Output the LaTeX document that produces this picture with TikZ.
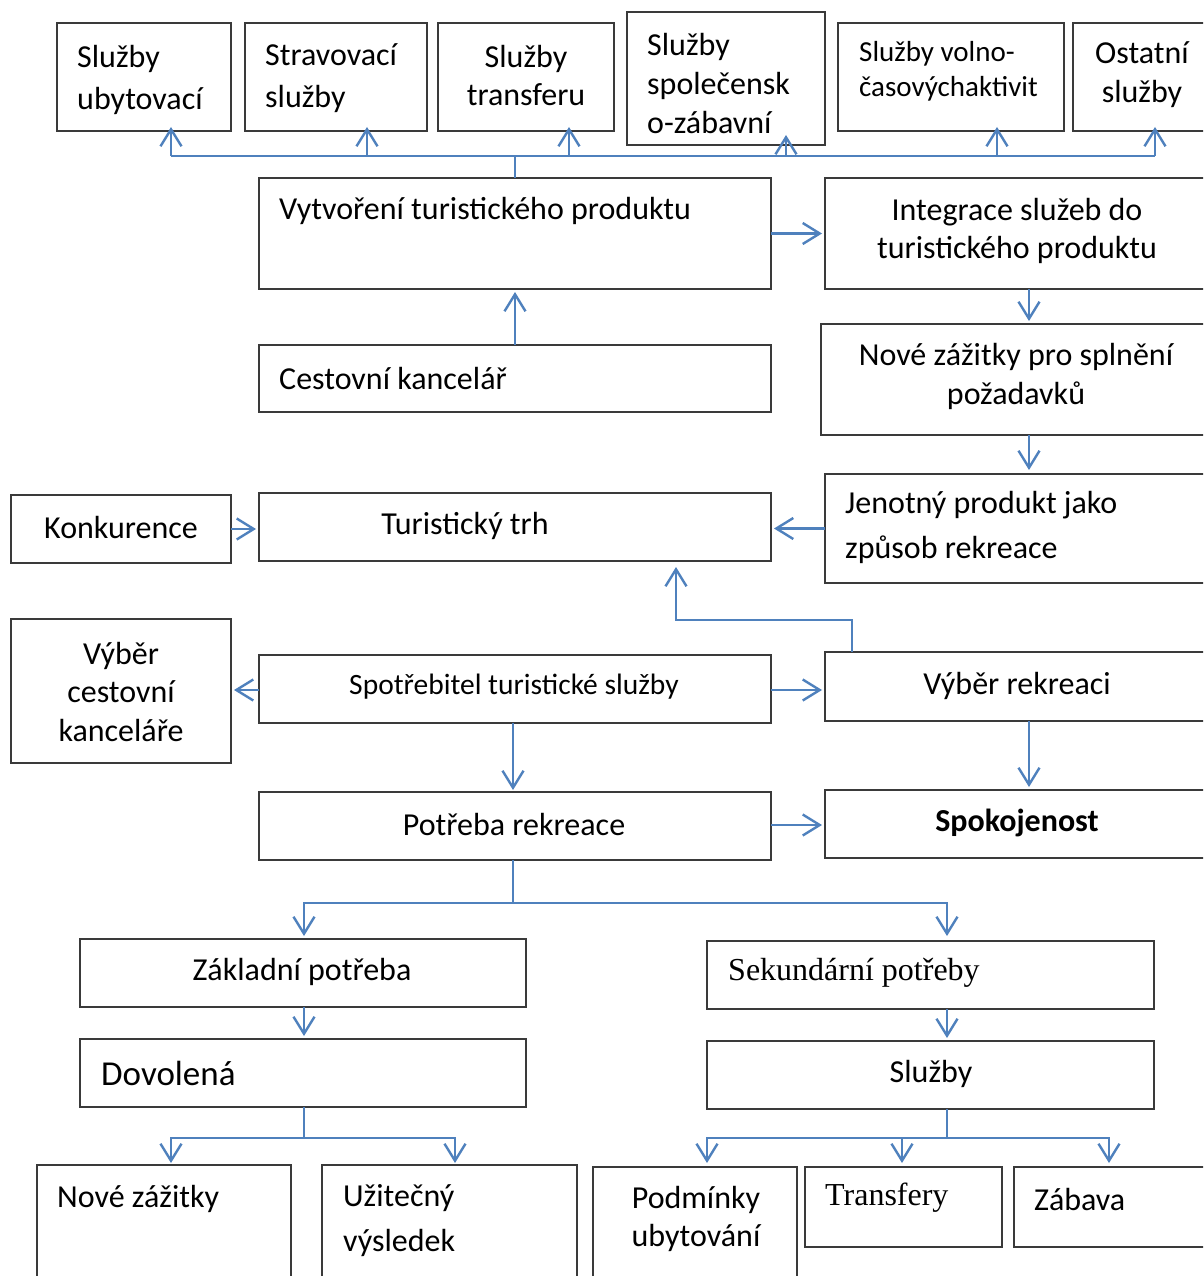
\documentclass[tikz,border=0pt]{standalone}
\usepackage{fontspec}
\setmainfont{Carlito}
\newfontfamily\tnr{Liberation Serif}
\usetikzlibrary{arrows.meta}
\definecolor{lineblue}{HTML}{4F81BD}
\definecolor{boxgray}{HTML}{3A3A3A}
\newcommand\fs[2]{\fontsize{#1}{#2}\selectfont}
\newcommand\bx[5]{\node[box, anchor=north west, minimum width={#4pt-#2pt}, minimum height={#5pt-#3pt}] (#1) at (#2,#3) {};}
\begin{document}
\begin{tikzpicture}[x=1pt,y=-1pt,
  box/.style={draw=boxgray, line width=1.4pt, inner sep=0pt, outer sep=0pt},
  conn/.style={draw=lineblue, line width=2.4pt},
  arr/.style={conn, -{Straight Barb[length=17pt,width=21pt]}},
  txt/.style={inner sep=0pt, yshift=-1.5pt, font=\fs{32}{42}},
]
\clip (0,0) rectangle (1203,1276);
\fill[white] (0,0) rectangle (1203,1276);
% boxes
\bx{b1}{57}{23}{231}{131}
\bx{b2}{245}{23}{427}{131}
\bx{b3}{438}{23}{614}{131}
\bx{b4}{627}{12}{825}{145}
\bx{b5}{838}{23}{1064}{131}
\bx{b6}{1073}{23}{1215}{131}
\bx{vyt}{259}{178}{771}{289}
\bx{int}{825}{178}{1215}{289}
\bx{ck}{259}{345}{771}{412}
\bx{nz}{821}{324}{1215}{435}
\bx{jen}{825}{474}{1215}{583}
\bx{tt}{259}{493}{771}{561}
\bx{kon}{11}{495}{231}{563}
\bx{vck}{11}{619}{231}{763}
\bx{spo}{259}{655}{771}{723}
\bx{vr}{825}{652}{1215}{721}
\bx{pr}{259}{792}{771}{860}
\bx{spk}{825}{790}{1215}{858}
\bx{zp}{80}{939}{526}{1007}
\bx{sp}{707}{941}{1154}{1009}
\bx{dov}{80}{1039}{526}{1107}
\bx{sl}{707}{1041}{1154}{1109}
\bx{nzb}{37}{1165}{291}{1295}
\bx{uv}{322}{1165}{577}{1295}
\bx{pu}{593}{1167}{797}{1295}
\bx{tr}{805}{1167}{1002}{1247}
\bx{zab}{1014}{1167}{1215}{1247}
% texts
\node[txt, anchor=west, align=left] (b1t) at (77,78) {Služby\\ubytovací};
\node[txt, anchor=west, align=left] (b2t) at (265,77) {Stravovací\\služby};
\node[txt, align=center, font=\fs{32}{38}] (b3t) at (526,74) {Služby\\transferu};
\node[txt, anchor=west, align=left, font=\fs{32}{39}] (b4t) at (647,82) {Služby\\společensk\\o-zábavní};
\node[txt, anchor=west, align=left, font=\fs{29}{35}] (b5t) at (859,70) {Služby volno-\\časovýchaktivit};
\node[txt, align=center, font=\fs{32}{39}] (b6t) at (1142,73) {Ostatní\\služby};
\node[txt, anchor=west] (vytt) at (279,209) {Vytvoření turistického produktu};
\node[txt, align=center, font=\fs{32}{38}] (intt) at (1017,229) {Integrace služeb do\\turistického produktu};
\node[txt, anchor=west] (ckt) at (279,377) {Cestovní kancelář};
\node[txt, align=center, font=\fs{32}{39}] (nzt) at (1016,375) {Nové zážitky pro splnění\\požadavků};
\node[txt, anchor=west, align=left, font=\fs{32}{45}] (jent) at (845,526) {Jenotný produkt jako\\způsob rekreace};
\node[txt] (ttt) at (465,524) {Turistický trh};
\node[txt] (kont) at (121,526) {Konkurence};
\node[txt, align=center, font=\fs{32}{38.5}] (vckt) at (121,690) {Výběr\\cestovní\\kanceláře};
\node[txt, font=\fs{29.5}{36}] (spot) at (514,685) {Spotřebitel turistické služby};
\node[txt] (vrt) at (1017,684) {Výběr rekreaci};
\node[txt] (prt) at (514,823) {Potřeba rekreace};
\node[txt, font=\bfseries\fs{32}{40}] (spkt) at (1017,821) {Spokojenost};
\node[txt] (zpt) at (302,970) {Základní potřeba};
\node[txt, anchor=west, font=\tnr\fs{32}{40}] (spt) at (728,971) {Sekundární potřeby};
\node[txt, anchor=west, font=\fs{35}{42}] (dovt) at (101,1072) {Dovolená};
\node[txt] (slt) at (931,1072) {Služby};
\node[txt, anchor=west] (nzbt) at (57,1197) {Nové zážitky};
\node[txt, anchor=west, align=left, font=\fs{32}{45}] (uvt) at (343,1219) {Užitečný\\výsledek};
\node[txt, align=center, font=\fs{32}{38}] (put) at (696,1217) {Podmínky\\ubytování};
\node[txt, anchor=west, font=\tnr\fs{32}{40}] (trt) at (825,1196) {Transfery};
\node[txt, anchor=west] (zabt) at (1034,1198) {Zábava};
% top bus
\coordinate (bus) at (515,156);
\draw[conn] (vyt.north -| bus) -- (bus);
\draw[conn] (bus -| 171,0) -- (bus -| 1155,0);
\draw[arr, shorten >=-4pt] (bus -| 171,0) -- (b1.south -| 171,0);
\draw[arr, shorten >=-4pt] (bus -| 367,0) -- (b2.south -| 367,0);
\draw[arr, shorten >=-4pt] (bus -| 569,0) -- (b3.south -| 569,0);
\draw[arr, shorten >=-10pt] (bus -| 786,0) -- (b4.south -| 786,0);
\draw[arr, shorten >=-4pt] (bus -| 997,0) -- (b5.south -| 997,0);
\draw[arr, shorten >=-4pt] (bus -| 1155,0) -- (b6.south -| 1155,0);
% middle
\draw[arr, shorten >=3pt] (vyt.east) -- (vyt.east -| int.west);
\draw[arr, shorten >=3pt] (ck.north) -- (vyt.south);
\draw[arr, shorten >=3pt] (int.south -| 1029,0) -- (nz.north -| 1029,0);
\draw[arr, shorten >=4pt] (nz.south -| 1029,0) -- (jen.north -| 1029,0);
\draw[arr, shorten >=3pt] (jen.west) -- (jen.west -| tt.east);
\draw[arr, shorten >=3pt] (kon.east) -- (kon.east -| tt.west);
\draw[arr, shorten >=3pt] (spo.west |- 0,690) -- (vck.east |- 0,690);
\draw[arr, shorten >=3pt] (spo.east |- 0,690) -- (vr.west |- 0,690);
\coordinate (bend) at (852,620);
\draw[arr, shorten >=6pt] (vr.north -| bend) -- (bend) -- (bend -| 676,0) -- (tt.south -| 676,0);
\draw[arr, shorten >=2pt] (spo.south -| 513,0) -- (pr.north -| 513,0);
\draw[arr, shorten >=3pt] (vr.south -| 1029,0) -- (spk.north -| 1029,0);
\draw[arr, shorten >=3pt] (pr.east |- 0,825) -- (spk.west |- 0,825);
% lower tree
\coordinate (j1) at (513,903);
\draw[conn] (pr.south -| j1) -- (j1);
\draw[arr, shorten >=3pt] (j1) -- (j1 -| 304,0) -- (zp.north -| 304,0);
\draw[arr, shorten >=5pt] (j1) -- (j1 -| 947,0) -- (sp.north -| 947,0);
\draw[arr, shorten >=3pt] (zp.south -| 304,0) -- (dov.north -| 304,0);
\draw[arr, shorten >=3pt] (sp.south -| 947,0) -- (sl.north -| 947,0);
\coordinate (j2) at (304,1138);
\draw[conn] (dov.south -| j2) -- (j2);
\draw[arr, shorten >=2pt] (j2) -- (j2 -| 171,0) -- (nzb.north -| 171,0);
\draw[arr, shorten >=2pt] (j2) -- (j2 -| 455,0) -- (uv.north -| 455,0);
\coordinate (j3) at (947,1138);
\draw[conn] (sl.south -| j3) -- (j3);
\draw[arr, shorten >=4pt] (j3) -- (j3 -| 707,0) -- (pu.north -| 707,0);
\draw[arr, shorten >=4pt] (j3 -| 902,0) -- (tr.north -| 902,0);
\draw[arr, shorten >=4pt] (j3) -- (j3 -| 1109,0) -- (zab.north -| 1109,0);
\end{tikzpicture}
\end{document}
